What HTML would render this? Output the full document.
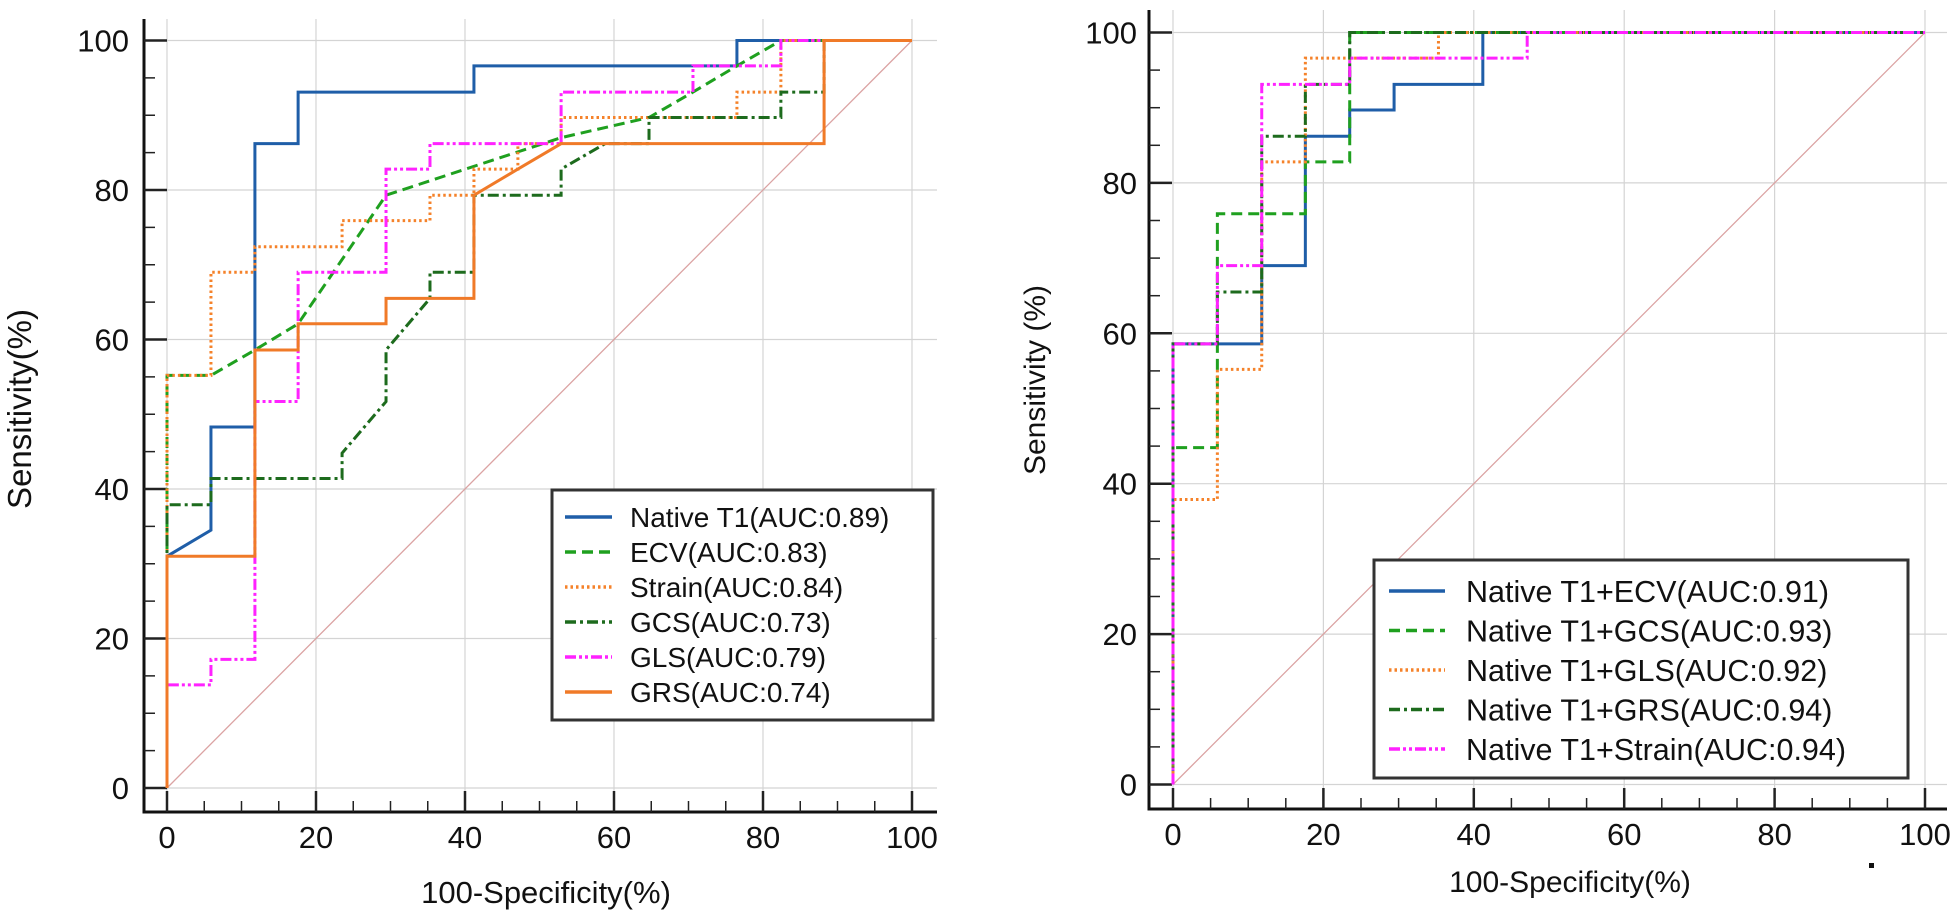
<!DOCTYPE html>
<html><head><meta charset="utf-8"><style>
body{margin:0;background:#fff;}
svg{display:block;font-family:"Liberation Sans",Arial,sans-serif;}
</style></head><body>
<svg id="chart" width="1955" height="912" viewBox="0 0 1955 912" xmlns="http://www.w3.org/2000/svg"></svg>
<script>
// ---- data ----
const xTicks = [0,20,40,60,80,100];
const yTicks = [0,20,40,60,80,100];
const leftNames = ["Native T1(AUC:0.89)","ECV(AUC:0.83)","Strain(AUC:0.84)","GCS(AUC:0.73)","GLS(AUC:0.79)","GRS(AUC:0.74)"];
const nativeT1 = [[0,0],[0,31],[5.9,34.5],[5.9,48.3],[11.8,48.3],[11.8,86.2],[17.6,86.2],[17.6,93.1],[41.2,93.1],[41.2,96.6],[76.5,96.6],[76.5,100],[100,100]];
const ecv = [[0,0],[0,55.2],[5.9,55.2],[11.8,58.6],[17.6,62.1],[29.4,79.3],[52.9,87],[64.7,89.7],[70.6,93.1],[76.5,96.6],[82.4,100],[100,100]];
const strain = [[0,0],[0,55.2],[5.9,55.2],[5.9,69],[11.8,69],[11.8,72.4],[23.5,72.4],[23.5,75.9],[35.3,75.9],[35.3,79.3],[41.2,79.3],[41.2,82.8],[47.1,82.8],[47.1,86.2],[52.9,86.2],[52.9,89.7],[76.5,89.7],[76.5,93.1],[82.4,93.1],[82.4,100],[100,100]];
const gcs = [[0,0],[0,37.9],[5.9,37.9],[5.9,41.4],[23.5,41.4],[23.5,44.8],[29.4,51.7],[29.4,58.6],[35.3,65.5],[35.3,69],[41.2,69],[41.2,79.3],[52.9,79.3],[52.9,82.8],[58.8,86.2],[64.7,86.2],[64.7,89.7],[82.4,89.7],[82.4,93.1],[88.2,93.1],[88.2,100],[100,100]];
const gls = [[0,0],[0,13.8],[5.9,13.8],[5.9,17.2],[11.8,17.2],[11.8,51.7],[17.6,51.7],[17.6,69],[29.4,69],[29.4,82.8],[35.3,82.8],[35.3,86.2],[52.9,86.2],[52.9,93.1],[70.6,93.1],[70.6,96.6],[82.4,96.6],[82.4,100],[100,100]];
const grs = [[0,0],[0,31],[11.8,31],[11.8,58.6],[17.6,58.6],[17.6,62.1],[29.4,62.1],[29.4,65.5],[41.2,65.5],[41.2,79.3],[47.1,82.8],[52.9,86.2],[88.2,86.2],[88.2,100],[100,100]];
const rightNames = ["Native T1+ECV(AUC:0.91)","Native T1+GCS(AUC:0.93)","Native T1+GLS(AUC:0.92)","Native T1+GRS(AUC:0.94)","Native T1+Strain(AUC:0.94)"];
const t1Ecv = [[0,0],[0,58.6],[11.8,58.6],[11.8,69],[17.6,69],[17.6,86.2],[23.5,86.2],[23.5,89.7],[29.4,89.7],[29.4,93.1],[41.2,93.1],[41.2,100],[100,100]];
const t1Gcs = [[0,0],[0,44.8],[5.9,44.8],[5.9,75.9],[17.6,75.9],[17.6,82.8],[23.5,82.8],[23.5,100],[100,100]];
const t1Gls = [[0,0],[0,37.9],[5.9,37.9],[5.9,55.2],[11.8,55.2],[11.8,82.8],[17.6,82.8],[17.6,96.6],[35.3,96.6],[35.3,100],[100,100]];
const t1Grs = [[0,0],[0,58.6],[5.9,58.6],[5.9,65.5],[11.8,65.5],[11.8,86.2],[17.6,86.2],[17.6,93.1],[23.5,93.1],[23.5,100],[100,100]];
const t1Strain = [[0,0],[0,58.6],[5.9,58.6],[5.9,69],[11.8,69],[11.8,93.1],[23.5,93.1],[23.5,96.6],[47.1,96.6],[47.1,100],[100,100]];

const NS="http://www.w3.org/2000/svg";
const svg=document.getElementById('chart');
function mk(tag,attrs,parent){const e=document.createElementNS(NS,tag);for(const k in attrs)e.setAttribute(k,attrs[k]);(parent||svg).appendChild(e);return e;}

const styles={
 blue:{stroke:"#1f5ea8",dash:""},
 green:{stroke:"#1fa01f",dash:"11,6"},
 orangeDot:{stroke:"#f5822a",dash:"2.5,3"},
 dgreen:{stroke:"#1d6b1d",dash:"11,4,3,4"},
 magenta:{stroke:"#ff22ff",dash:"11,3,3,3,3,3"},
 orange:{stroke:"#f07a28",dash:""}
};

function panel(cfg){
 const g=mk('g',{});  
 const sx=v=>cfg.x0+(cfg.x100-cfg.x0)*v/100;
 const sy=v=>cfg.y0+(cfg.y100-cfg.y0)*v/100;
 xTicks.forEach(t=>{const l=mk('line',{x1:sx(t),x2:sx(t),y1:cfg.top,y2:cfg.axisY,stroke:"#d4d4d4","stroke-width":1.2},g);});
 yTicks.forEach(t=>{const l=mk('line',{x1:cfg.axisX,x2:cfg.right,y1:sy(t),y2:sy(t),stroke:"#d4d4d4","stroke-width":1.2},g);});
 const d=mk('line',{x1:sx(0),y1:sy(0),x2:sx(100),y2:sy(100),stroke:"#dba3a3","stroke-width":1.3},g);
 
 const ax=mk('path',{d:`M${cfg.axisX},${cfg.top}V${cfg.axisY}H${cfg.right}`,fill:"none",stroke:"#111","stroke-width":3},g);
 
 for(let t=0;t<=100;t+=5){
  const maj=t%20===0;
  mk('line',{x1:sx(t),x2:sx(t),y1:cfg.axisY,y2:cfg.axisY-(maj?21:11),stroke:"#222","stroke-width":maj?2.5:1.5},g);
  mk('line',{x1:cfg.axisX,x2:cfg.axisX+(maj?23:11),y1:sy(t),y2:sy(t),stroke:"#222","stroke-width":maj?2.5:1.5},g);
 }
 xTicks.forEach(t=>{const tx=mk('text',{x:sx(t),y:cfg.xLabY,"font-size":31,"text-anchor":"middle",fill:"#111"},g);tx.textContent=t;});
 yTicks.forEach(t=>{const tx=mk('text',{x:cfg.yLabX,y:sy(t)+11,"font-size":31,"text-anchor":"end",fill:"#111"},g);tx.textContent=t;});
 const xt=mk('text',{x:cfg.xTitleX,y:cfg.xTitleY,"font-size":cfg.xTitleFs,"text-anchor":"middle",fill:"#111"},g);xt.textContent="100-Specificity(%)";
 
 const yt=mk('text',{x:0,y:0,"font-size":cfg.yTitleFs,"text-anchor":"middle",fill:"#111",transform:`translate(${cfg.yTitleX},${cfg.yTitleY}) rotate(-90)`},g);yt.textContent=cfg.yTitle;
 
 cfg.series.forEach((s,i)=>{
  const st=styles[s.style];
  const p=mk('polyline',{points:s.data.map(q=>sx(q[0])+","+sy(q[1])).join(" "),fill:"none",stroke:st.stroke,"stroke-width":3,"stroke-dasharray":st.dash},g);
  
  
 });
 const L=cfg.legend;
 const lg=mk('g',{},g);
 mk('rect',{x:L.x,y:L.y,width:L.w,height:L.h,fill:"#fff",stroke:"#333","stroke-width":3},lg);
 cfg.series.forEach((s,i)=>{
  const st=styles[s.style];const yy=L.row0+i*L.dy;
  const e=mk('g',{},lg);
  mk('line',{x1:L.lx1,x2:L.lx2,y1:yy,y2:yy,stroke:st.stroke,"stroke-width":3.5,"stroke-dasharray":st.dash},e);
  const t=mk('text',{x:L.tx,y:yy+L.fs*0.36,"font-size":L.fs,fill:"#111"},e);t.textContent=s.label;
 });
}

panel({name:"left-roc-chart",x0:167,x100:912,y0:788,y100:40.5,axisX:144,axisY:812,top:19,right:937,
 xLabY:848,yLabX:129,xTitleX:546,xTitleY:903,xTitleFs:31,yTitleX:31,yTitleY:409,yTitleFs:33,yTitle:"Sensitivity(%)",
 series:[{key:"native-t1",style:"blue",data:nativeT1,label:leftNames[0]},{key:"ecv",style:"green",data:ecv,label:leftNames[1]},
  {key:"strain",style:"orangeDot",data:strain,label:leftNames[2]},{key:"gcs",style:"dgreen",data:gcs,label:leftNames[3]},
  {key:"gls",style:"magenta",data:gls,label:leftNames[4]},{key:"grs",style:"orange",data:grs,label:leftNames[5]}],
 legend:{x:552,y:490,w:381,h:230,row0:517,dy:35,lx1:565,lx2:612,tx:630,fs:28}});

panel({name:"right-roc-chart",x0:1173,x100:1925,y0:784.5,y100:32.5,axisX:1149,axisY:809,top:10,right:1947,
 xLabY:845,yLabX:1137,xTitleX:1570,xTitleY:892,xTitleFs:30,yTitleX:1045,yTitleY:380,yTitleFs:30,yTitle:"Sensitivity (%)",
 series:[{key:"t1-ecv",style:"blue",data:t1Ecv,label:rightNames[0]},{key:"t1-gcs",style:"green",data:t1Gcs,label:rightNames[1]},
  {key:"t1-gls",style:"orangeDot",data:t1Gls,label:rightNames[2]},{key:"t1-grs",style:"dgreen",data:t1Grs,label:rightNames[3]},
  {key:"t1-strain",style:"magenta",data:t1Strain,label:rightNames[4]}],
 legend:{x:1374,y:560,w:534,h:218,row0:591,dy:39.5,lx1:1389,lx2:1445,tx:1466,fs:30.5}});

const dot=mk('rect',{x:1869,y:863,width:5,height:5,fill:"#111"});


</script>
</body></html>
